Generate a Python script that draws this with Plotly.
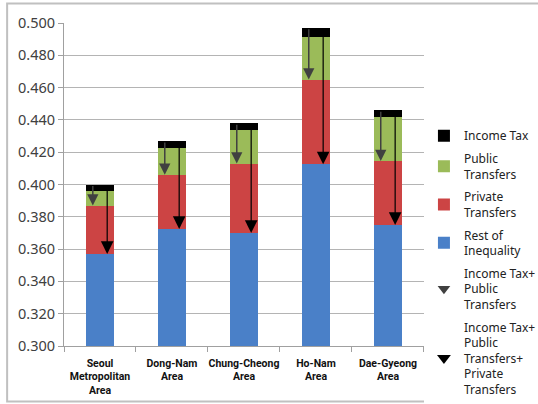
import plotly.graph_objects as go

regions = ["Seoul<br>Metropolitan<br>Area", "Dong-Nam<br>Area", "Chung-Cheong<br>Area", "Ho-Nam<br>Area", "Dae-Gyeong<br>Area"]
total = [0.400, 0.427, 0.438, 0.497, 0.446]          # original inequality (top of bar)
after_tax = [0.396, 0.4225, 0.4335, 0.4915, 0.442]   # after income tax
after_public = [0.387, 0.406, 0.413, 0.465, 0.4145]  # after income tax + public transfers
rest = [0.357, 0.3725, 0.370, 0.4125, 0.375]         # rest of inequality

y_ticks = [0.30, 0.32, 0.34, 0.36, 0.38, 0.40, 0.42, 0.44, 0.46, 0.48, 0.50]

private = [a - r for a, r in zip(after_public, rest)]
public = [t - a for t, a in zip(after_tax, after_public)]
income_tax = [tot - t for tot, t in zip(total, after_tax)]

BLUE = "#4a80c8"
RED = "#cc4444"
GREEN = "#9bbb59"
BLACK = "#000000"
DARK = "#404040"

fig = go.Figure()
common = dict(x=regions, width=0.39, marker_line_width=0, hoverinfo="skip")
fig.add_trace(go.Bar(y=rest, name="Rest of<br>Inequality", marker_color=BLUE, legendrank=4, legendgroup="d", **common))
fig.add_trace(go.Bar(y=private, name="Private<br>Transfers", marker_color=RED, legendrank=3, legendgroup="c", **common))
fig.add_trace(go.Bar(y=public, name="Public<br>Transfers", marker_color=GREEN, legendrank=2, legendgroup="b", **common))
fig.add_trace(go.Bar(y=income_tax, name="Income Tax", marker_color=BLACK, legendrank=1, legendgroup="a", **common))

# legend-only entries for arrows
fig.add_trace(go.Scatter(x=[None], y=[None], mode="markers", legendrank=5, legendgroup="e",
                         marker=dict(symbol="triangle-down", size=11, color=DARK),
                         name="Income Tax+<br>Public<br>Transfers"))
fig.add_trace(go.Scatter(x=[None], y=[None], mode="markers", legendrank=6, legendgroup="f",
                         marker=dict(symbol="triangle-down", size=12, color=BLACK),
                         name="Income Tax+<br>Public<br>Transfers+<br>Private<br>Transfers"))

annotations = []
for i in range(len(regions)):
    annotations.append(dict(x=i - 0.1, y=after_public[i], ax=i - 0.1, ay=total[i],
                            xref="x", yref="y", axref="x", ayref="y", text="",
                            showarrow=True, arrowhead=2, arrowsize=1.5, arrowwidth=1.5,
                            arrowcolor=DARK))
    annotations.append(dict(x=i + 0.1, y=rest[i], ax=i + 0.1, ay=total[i],
                            xref="x", yref="y", axref="x", ayref="y", text="",
                            showarrow=True, arrowhead=2, arrowsize=2.1, arrowwidth=1.2,
                            arrowcolor=BLACK))

fig.update_layout(
    barmode="stack",
    width=538, height=404,
    margin=dict(l=64, r=105, t=23, b=58),
    paper_bgcolor="white", plot_bgcolor="white",
    font=dict(family="Noto Sans", color="#333333"),
    annotations=annotations,
    legend=dict(xref="container", yref="container", x=0.788, xanchor="left", y=0.70, yanchor="top",
                traceorder="grouped", tracegroupgap=4, font=dict(size=12, color="#222222"),
                itemwidth=30, maxheight=300),
    shapes=[dict(type="rect", xref="paper", yref="paper", x0=-0.158, x1=1.35, y0=-0.172, y1=1.06,
                 line=dict(color="#c0c0c0", width=2), fillcolor="rgba(0,0,0,0)", layer="below")],
)
fig.update_yaxes(range=[0.3, 0.5], tickvals=y_ticks, tickformat=".3f", showgrid=True,
                 gridcolor="#b4b4b4", gridwidth=1.3, showline=True, linecolor="#a0a0a0",
                 ticks="outside", ticklen=5, tickcolor="#a0a0a0", automargin=False,
                 tickfont=dict(size=14.5, color="#404040"), zeroline=False)
fig.update_xaxes(type="category", tickson="boundaries", ticks="outside", ticklen=5,
                 tickcolor="#a0a0a0", showline=True, linecolor="#a0a0a0", showgrid=False,
                 tickfont=dict(size=10.5, color="#111111", family="Roboto", weight="bold"),
                 tickangle=0, ticklabelstandoff=7, automargin=False)
fig.write_html("out.html", config={"displayModeBar": False},
               post_script="document.body.style.margin='0px';")
